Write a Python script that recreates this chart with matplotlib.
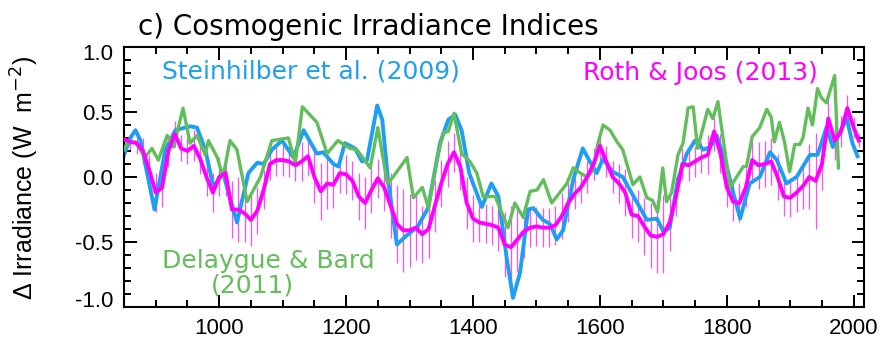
import matplotlib
matplotlib.use("Agg")
import matplotlib.pyplot as plt
import matplotlib.transforms as mtrans
from matplotlib.ticker import MultipleLocator, FormatStrFormatter

# Steinhilber et al. (2009)
sb_years = [850, 860, 868, 876, 898, 915, 931, 954, 965, 978, 991, 1006, 1028, 1046,
            1060, 1070, 1083, 1099, 1117, 1133, 1154, 1164, 1180, 1188, 1198, 1214,
            1225, 1233, 1249, 1257, 1266, 1280, 1293, 1313, 1329, 1348, 1361, 1372,
            1382, 1394, 1414, 1429, 1440, 1453, 1463, 1474, 1487, 1495, 1510, 1521,
            1532, 1542, 1558, 1573, 1584, 1595, 1605, 1620, 1636, 1652, 1674, 1690,
            1700, 1710, 1723, 1737, 1750, 1763, 1774, 1784, 1800, 1810, 1821, 1836,
            1852, 1868, 1879, 1894, 1910, 1931, 1943, 1957, 1967, 1989, 1998, 2006]
sb_vals = [0.17, 0.30, 0.36, 0.28, -0.25, 0.21, 0.36, 0.39, 0.38, 0.21, -0.08, 0.03, -0.35, 0.03,
           0.11, 0.10, 0.21, 0.28, 0.15, 0.36, 0.18, 0.19, 0.10, 0.08, 0.26, 0.22,
           0.12, 0.13, 0.55, 0.44, -0.02, -0.52, -0.46, -0.38, -0.24, 0.26, 0.44, 0.48,
           0.36, 0.03, -0.23, -0.05, -0.15, -0.62, -0.93, -0.74, -0.25, -0.24, -0.33, -0.36,
           -0.48, -0.41, -0.02, 0.22, 0.12, 0.03, 0.14, 0.04, 0.00, -0.14, -0.33, -0.32,
           -0.42, -0.39, -0.02, 0.18, 0.28, 0.21, 0.23, 0.32, 0.08, -0.12, -0.32, -0.05,
           0.00, 0.19, 0.13, -0.05, 0.00, 0.17, 0.17, 0.38, 0.23, 0.45, 0.26, 0.16]

# Delaygue & Bard (2011)
db_years = [850, 855, 868, 883, 894, 904, 918, 928, 943, 954, 965, 978, 983, 997,
            1006, 1017, 1028, 1044, 1065, 1083, 1109, 1120, 1131, 1154, 1170, 1187,
            1206, 1217, 1238, 1250, 1265, 1274, 1296, 1306, 1320, 1330, 1343, 1353,
            1361, 1370, 1382, 1395, 1406, 1416, 1435, 1455, 1466, 1479, 1490, 1501,
            1511, 1524, 1548, 1558, 1569, 1580, 1589, 1597, 1605, 1616, 1627, 1636,
            1652, 1663, 1674, 1683, 1691, 1699, 1705, 1713, 1723, 1731, 1739, 1747,
            1754, 1770, 1778, 1786, 1805, 1826, 1831, 1840, 1852, 1863, 1870, 1875,
            1883, 1891, 1899, 1907, 1915, 1920, 1928, 1935, 1943, 1949, 1957, 1970, 1976]
db_vals = [0.21, 0.26, 0.27, 0.15, 0.22, 0.13, 0.32, 0.23, 0.53, 0.26, 0.32, 0.17, 0.28, 0.15,
           0.00, 0.28, 0.21, -0.19, 0.00, 0.28, 0.30, 0.11, 0.54, 0.42, 0.18, 0.28,
           0.22, 0.21, 0.07, 0.38, -0.05, 0.00, 0.15, -0.16, -0.08, -0.24, 0.13, 0.34,
           0.35, 0.49, 0.18, 0.12, 0.03, -0.15, -0.15, -0.39, -0.20, -0.31, -0.11, -0.10,
           -0.02, -0.20, -0.05, 0.07, 0.03, 0.00, 0.05, 0.26, 0.40, 0.36, 0.27, 0.21,
           -0.06, 0.00, -0.16, -0.18, -0.27, 0.07, -0.19, -0.12, 0.17, 0.26, 0.53, 0.54,
           0.22, 0.52, 0.45, 0.58, -0.08, 0.08, 0.08, 0.31, 0.38, 0.52, 0.46, 0.27,
           0.42, 0.27, 0.04, 0.25, 0.25, 0.30, 0.53, 0.40, 0.68, 0.61, 0.57, 0.78, 0.07]

# Roth & Joos (2013), decadal values with 1-sigma range
rj_years = list(range(850, 2001, 10)) + [2008]
rj_vals = [0.29, 0.27, 0.26, 0.20, 0.05, -0.12, -0.08, 0.20, 0.33, 0.22,
           0.20, 0.24, 0.14, 0.00, -0.12, 0.00, 0.03, -0.25, -0.25, -0.28,
           -0.33, -0.26, -0.10, 0.10, 0.13, 0.13, 0.12, 0.09, 0.12, 0.16,
           0.00, -0.11, -0.05, -0.06, 0.03, 0.02, -0.03, -0.15, -0.20, -0.10,
           -0.01, -0.08, -0.22, -0.36, -0.41, -0.41, -0.39, -0.44, -0.40, -0.22,
           -0.05, 0.10, 0.19, 0.08, -0.20, -0.32, -0.35, -0.36, -0.37, -0.39,
           -0.52, -0.54, -0.48, -0.42, -0.39, -0.38, -0.39, -0.39, -0.37, -0.30,
           -0.20, -0.13, -0.08, 0.00, 0.10, 0.24, 0.12, 0.00, -0.05, -0.12,
           -0.29, -0.30, -0.38, -0.45, -0.46, -0.44, -0.35, -0.15, 0.10, 0.09,
           0.12, 0.15, 0.17, 0.35, 0.18, -0.08, -0.19, -0.20, -0.08, 0.13,
           0.09, 0.10, 0.12, 0.00, -0.15, -0.16, -0.12, -0.07, 0.00, -0.03,
           0.10, 0.45, 0.28, 0.35, 0.53, 0.38,
           0.28]
rj_err = [0.05, 0.06, 0.08, 0.10, 0.12, 0.15, 0.15, 0.12, 0.10, 0.10,
          0.10, 0.12, 0.12, 0.15, 0.15, 0.15, 0.18, 0.22, 0.25, 0.22,
          0.20, 0.18, 0.15, 0.12, 0.12, 0.12, 0.12, 0.12, 0.15, 0.15,
          0.20, 0.22, 0.20, 0.18, 0.15, 0.15, 0.15, 0.18, 0.20, 0.18,
          0.15, 0.18, 0.25, 0.30, 0.32, 0.28, 0.25, 0.22, 0.22, 0.20,
          0.18, 0.18, 0.15, 0.18, 0.20, 0.18, 0.15, 0.15, 0.15, 0.18,
          0.25, 0.32, 0.25, 0.20, 0.15, 0.15, 0.15, 0.15, 0.15, 0.18,
          0.15, 0.12, 0.12, 0.12, 0.12, 0.12, 0.12, 0.12, 0.15, 0.18,
          0.18, 0.20, 0.22, 0.25, 0.28, 0.30, 0.22, 0.15, 0.12, 0.12,
          0.12, 0.12, 0.15, 0.15, 0.15, 0.15, 0.15, 0.15, 0.15, 0.15,
          0.18, 0.18, 0.18, 0.18, 0.15, 0.15, 0.15, 0.18, 0.25, 0.37,
          0.20, 0.15, 0.15, 0.12, 0.10, 0.08,
          0.05]

BLUE = "#1E9FF2"
GREEN = "#62BE5A"
MAGENTA = "#FF00FF"

plt.rcParams["font.family"] = ["Liberation Sans", "DejaVu Sans"]

fig = plt.figure(figsize=(8.86, 3.47), dpi=100)
ax = fig.add_axes([0.140, 0.1153, 0.835, 0.7493])

ax.errorbar(rj_years, rj_vals, yerr=rj_err, fmt="none", ecolor="#FF4DFF",
            elinewidth=0.9, zorder=1)
ax.plot(sb_years, sb_vals, color=BLUE, lw=2.8, zorder=2)
ax.plot(db_years, db_vals, color=GREEN, lw=2.4, zorder=3)
ax.plot(rj_years, rj_vals, color=MAGENTA, lw=2.8, zorder=4)

ax.set_xlim(850, 2016)
ax.set_ylim(-1.0, 1.0)
ax.set_xticks(range(1000, 2001, 200))
ax.xaxis.set_minor_locator(MultipleLocator(50))
ax.yaxis.set_major_locator(MultipleLocator(0.5))
ax.yaxis.set_minor_locator(MultipleLocator(0.1))
ax.yaxis.set_major_formatter(FormatStrFormatter("%.1f"))
ax.tick_params(which="both", direction="in", top=True, right=True,
               labelsize=16, width=1.4)
ax.tick_params(which="major", length=9, pad=8)
ax.tick_params(which="minor", length=5)
for sp in ax.spines.values():
    sp.set_linewidth(1.5)

fig.text(25 / 886, 0.487, "Δ Irradiance (W  m$^{-2}$)", rotation=90,
         ha="center", va="center", fontsize=18)

ann = dict(family="DejaVu Sans", fontsize=18)
fig.text(138 / 886, 1 - 35 / 347, "c) Cosmogenic Irradiance Indices",
         color="black", va="baseline", family="DejaVu Sans", fontsize=20)
fig.text(162 / 886, 1 - 79 / 347, "Steinhilber et al. (2009)", color=BLUE,
         va="baseline", **ann)
fig.text(583 / 886, 1 - 80 / 347, "Roth & Joos (2013)", color=MAGENTA,
         va="baseline", **ann)
fig.text(162 / 886, 1 - 268 / 347, "Delaygue & Bard", color=GREEN,
         va="baseline", **ann)
fig.text(252 / 886, 1 - 293 / 347, "(2011)", color=GREEN, ha="center",
         va="baseline", **ann)

# pull the end labels of the y axis slightly inside the frame
fig.canvas.draw()
for tick in ax.yaxis.get_major_ticks():
    txt = tick.label1.get_text().replace("\u2212", "-")
    shift = {"1.0": -5, "-1.0": 8}.get(txt)
    if shift:
        tick.label1.set_transform(tick.label1.get_transform() +
                                  mtrans.ScaledTranslation(0, shift / 100, fig.dpi_scale_trans))

fig.savefig("out.png", dpi=100)
